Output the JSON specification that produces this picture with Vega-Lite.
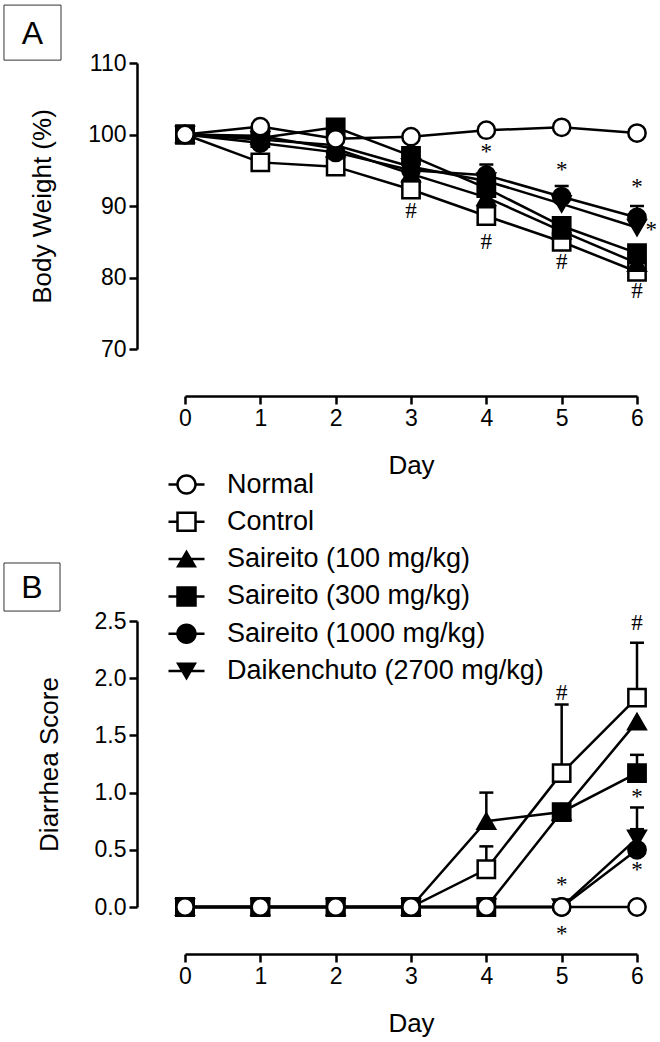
{
  "$schema": "https://vega.github.io/schema/vega-lite/v6.json",
  "width": 523,
  "height": 954,
  "autosize": "none",
  "padding": {"left": 137, "top": 0, "right": 0, "bottom": 88},
  "background": "white",
  "config": {
    "font": "Liberation Sans",
    "view": {"stroke": null},
    "axis": {
      "grid": false,
      "domainColor": "black",
      "domainWidth": 2.5,
      "tickColor": "black",
      "tickWidth": 2.5,
      "tickSize": 8,
      "labelFont": "Liberation Sans",
      "labelFontSize": 23,
      "labelColor": "black",
      "labelPadding": 3,
      "titleFont": "Liberation Sans",
      "titleFontSize": 26,
      "titleFontWeight": "normal",
      "titleColor": "black"
    }
  },
  "datasets": {
    "bw": [
      {"group": "Control", "day": 0, "value": 100},
      {"group": "Control", "day": 1, "value": 96.1},
      {"group": "Control", "day": 2, "value": 95.5},
      {"group": "Control", "day": 3, "value": 92.3},
      {"group": "Control", "day": 4, "value": 88.6},
      {"group": "Control", "day": 5, "value": 85.0},
      {"group": "Control", "day": 6, "value": 80.8},
      {"group": "Saireito (100 mg/kg)", "day": 0, "value": 100},
      {"group": "Saireito (100 mg/kg)", "day": 1, "value": 99.8},
      {"group": "Saireito (100 mg/kg)", "day": 2, "value": 98.0},
      {"group": "Saireito (100 mg/kg)", "day": 3, "value": 94.5},
      {"group": "Saireito (100 mg/kg)", "day": 4, "value": 91.2},
      {"group": "Saireito (100 mg/kg)", "day": 5, "value": 86.5},
      {"group": "Saireito (100 mg/kg)", "day": 6, "value": 82.0},
      {"group": "Daikenchuto (2700 mg/kg)", "day": 0, "value": 100},
      {"group": "Daikenchuto (2700 mg/kg)", "day": 1, "value": 99.3},
      {"group": "Daikenchuto (2700 mg/kg)", "day": 2, "value": 98.5},
      {"group": "Daikenchuto (2700 mg/kg)", "day": 3, "value": 95.5},
      {"group": "Daikenchuto (2700 mg/kg)", "day": 4, "value": 93.5},
      {"group": "Daikenchuto (2700 mg/kg)", "day": 5, "value": 90.3},
      {"group": "Daikenchuto (2700 mg/kg)", "day": 6, "value": 87.0},
      {"group": "Saireito (1000 mg/kg)", "day": 0, "value": 100},
      {"group": "Saireito (1000 mg/kg)", "day": 1, "value": 98.8},
      {"group": "Saireito (1000 mg/kg)", "day": 2, "value": 97.5},
      {"group": "Saireito (1000 mg/kg)", "day": 3, "value": 95.0},
      {"group": "Saireito (1000 mg/kg)", "day": 4, "value": 94.3},
      {"group": "Saireito (1000 mg/kg)", "day": 5, "value": 91.3},
      {"group": "Saireito (1000 mg/kg)", "day": 6, "value": 88.4},
      {"group": "Saireito (300 mg/kg)", "day": 0, "value": 100},
      {"group": "Saireito (300 mg/kg)", "day": 1, "value": 99.5},
      {"group": "Saireito (300 mg/kg)", "day": 2, "value": 101.0},
      {"group": "Saireito (300 mg/kg)", "day": 3, "value": 97.0},
      {"group": "Saireito (300 mg/kg)", "day": 4, "value": 92.5},
      {"group": "Saireito (300 mg/kg)", "day": 5, "value": 87.2},
      {"group": "Saireito (300 mg/kg)", "day": 6, "value": 83.4},
      {"group": "Normal", "day": 0, "value": 100},
      {"group": "Normal", "day": 1, "value": 101.1},
      {"group": "Normal", "day": 2, "value": 99.4},
      {"group": "Normal", "day": 3, "value": 99.7},
      {"group": "Normal", "day": 4, "value": 100.6},
      {"group": "Normal", "day": 5, "value": 101.0},
      {"group": "Normal", "day": 6, "value": 100.2}
    ],
    "bwErr": [
      {"group": "Saireito (1000 mg/kg)", "day": 4, "value": 95.8, "value2": 94.3},
      {"group": "Saireito (1000 mg/kg)", "day": 5, "value": 92.8, "value2": 91.3},
      {"group": "Saireito (1000 mg/kg)", "day": 6, "value": 90.0, "value2": 88.4}
    ],
    "bwSig": [
      {"day": 3, "value": 89.3, "label": "#"},
      {"day": 4, "value": 97.5, "label": "*"},
      {"day": 4, "value": 85.0, "label": "#"},
      {"day": 5, "value": 95.1, "label": "*"},
      {"day": 5, "value": 82.2, "label": "#"},
      {"day": 6, "value": 92.6, "label": "*"},
      {"day": 6.19, "value": 86.7, "label": "*"},
      {"day": 6, "value": 78.1, "label": "#"}
    ],
    "boxA": [{"day": -2.403, "day2": -1.646, "value": 118.1, "value2": 110.4}],
    "textA": [{"day": -2.024, "value": 114.2, "label": "A"}],
    "ds": [
      {"group": "Control", "day": 0, "value": 0},
      {"group": "Control", "day": 1, "value": 0},
      {"group": "Control", "day": 2, "value": 0},
      {"group": "Control", "day": 3, "value": 0},
      {"group": "Control", "day": 4, "value": 0.33},
      {"group": "Control", "day": 5, "value": 1.17},
      {"group": "Control", "day": 6, "value": 1.83},
      {"group": "Saireito (100 mg/kg)", "day": 0, "value": 0},
      {"group": "Saireito (100 mg/kg)", "day": 1, "value": 0},
      {"group": "Saireito (100 mg/kg)", "day": 2, "value": 0},
      {"group": "Saireito (100 mg/kg)", "day": 3, "value": 0},
      {"group": "Saireito (100 mg/kg)", "day": 4, "value": 0.75},
      {"group": "Saireito (100 mg/kg)", "day": 5, "value": 0.83},
      {"group": "Saireito (100 mg/kg)", "day": 6, "value": 1.62},
      {"group": "Daikenchuto (2700 mg/kg)", "day": 0, "value": 0},
      {"group": "Daikenchuto (2700 mg/kg)", "day": 1, "value": 0},
      {"group": "Daikenchuto (2700 mg/kg)", "day": 2, "value": 0},
      {"group": "Daikenchuto (2700 mg/kg)", "day": 3, "value": 0},
      {"group": "Daikenchuto (2700 mg/kg)", "day": 4, "value": 0},
      {"group": "Daikenchuto (2700 mg/kg)", "day": 5, "value": 0},
      {"group": "Daikenchuto (2700 mg/kg)", "day": 6, "value": 0.6},
      {"group": "Saireito (1000 mg/kg)", "day": 0, "value": 0},
      {"group": "Saireito (1000 mg/kg)", "day": 1, "value": 0},
      {"group": "Saireito (1000 mg/kg)", "day": 2, "value": 0},
      {"group": "Saireito (1000 mg/kg)", "day": 3, "value": 0},
      {"group": "Saireito (1000 mg/kg)", "day": 4, "value": 0},
      {"group": "Saireito (1000 mg/kg)", "day": 5, "value": 0},
      {"group": "Saireito (1000 mg/kg)", "day": 6, "value": 0.5},
      {"group": "Saireito (300 mg/kg)", "day": 0, "value": 0},
      {"group": "Saireito (300 mg/kg)", "day": 1, "value": 0},
      {"group": "Saireito (300 mg/kg)", "day": 2, "value": 0},
      {"group": "Saireito (300 mg/kg)", "day": 3, "value": 0},
      {"group": "Saireito (300 mg/kg)", "day": 4, "value": 0},
      {"group": "Saireito (300 mg/kg)", "day": 5, "value": 0.83},
      {"group": "Saireito (300 mg/kg)", "day": 6, "value": 1.17},
      {"group": "Normal", "day": 0, "value": 0},
      {"group": "Normal", "day": 1, "value": 0},
      {"group": "Normal", "day": 2, "value": 0},
      {"group": "Normal", "day": 3, "value": 0},
      {"group": "Normal", "day": 4, "value": 0},
      {"group": "Normal", "day": 5, "value": 0},
      {"group": "Normal", "day": 6, "value": 0}
    ],
    "dsErr": [
      {"group": "Control", "day": 4, "value": 0.53, "value2": 0.33},
      {"group": "Control", "day": 5, "value": 1.77, "value2": 1.17},
      {"group": "Control", "day": 6, "value": 2.31, "value2": 1.83},
      {"group": "Saireito (100 mg/kg)", "day": 4, "value": 1.0, "value2": 0.75},
      {"group": "Saireito (300 mg/kg)", "day": 6, "value": 1.33, "value2": 1.17},
      {"group": "Daikenchuto (2700 mg/kg)", "day": 6, "value": 0.87, "value2": 0.6},
      {"group": "Saireito (1000 mg/kg)", "day": 6, "value": 0.68, "value2": 0.5}
    ],
    "dsSig": [
      {"day": 5, "value": 1.87, "label": "#"},
      {"day": 6, "value": 2.48, "label": "#"},
      {"day": 5, "value": 0.19, "label": "*"},
      {"day": 5, "value": -0.24, "label": "*"},
      {"day": 6, "value": 0.96, "label": "*"},
      {"day": 6, "value": 0.32, "label": "*"}
    ],
    "boxB": [{"day": -2.403, "day2": -1.659, "value": 3.007, "value2": 2.587}],
    "textB": [{"day": -2.031, "value": 2.797, "label": "B"}]
  },
  "layer": [
    {
      "encoding": {
        "x": {"field": "day", "type": "quantitative",
          "scale": {"domain": [0, 6], "range": [48, 500], "nice": false, "zero": false},
          "axis": {"orient": "bottom", "offset": -558, "values": [0, 1, 2, 3, 4, 5, 6], "format": "d", "title": "Day", "labelFlush": false, "titlePadding": 22}},
        "y": {"field": "value", "type": "quantitative",
          "scale": {"domain": [70, 110], "range": [349, 63], "nice": false, "zero": false},
          "axis": {"orient": "left", "values": [70, 80, 90, 100, 110], "title": "Body Weight (%)", "titlePadding": 32}}
      },
      "layer": [
        {"data": {"name": "bw"}, "mark": {"type": "line", "color": "black", "strokeWidth": 2.5},
          "encoding": {"detail": {"field": "group"}}},
        {"data": {"name": "bwErr"}, "mark": {"type": "rule", "color": "black", "strokeWidth": 2.5},
          "encoding": {"y2": {"field": "value2"}}},
        {"data": {"name": "bwErr"}, "mark": {"type": "tick", "orient": "horizontal", "color": "black", "thickness": 2.5, "size": 14, "opacity": 1}},
        {"data": {"name": "bw"}, "mark": {"type": "point", "filled": true, "stroke": "black", "strokeWidth": 2.5, "size": 300, "opacity": 1},
          "encoding": {
            "shape": {"field": "group", "type": "nominal", "legend": null,
              "scale": {"domain": ["Normal", "Control", "Saireito (100 mg/kg)", "Saireito (300 mg/kg)", "Saireito (1000 mg/kg)", "Daikenchuto (2700 mg/kg)"],
                "range": ["circle", "square", "triangle-up", "square", "circle", "triangle-down"]}},
            "fill": {"field": "group", "type": "nominal", "legend": null,
              "scale": {"domain": ["Normal", "Control", "Saireito (100 mg/kg)", "Saireito (300 mg/kg)", "Saireito (1000 mg/kg)", "Daikenchuto (2700 mg/kg)"],
                "range": ["white", "white", "black", "black", "black", "black"]}}
          }},
        {"data": {"name": "bwSig"}, "mark": {"type": "text", "font": "Liberation Serif", "fontSize": 23, "color": "black", "baseline": "middle", "align": "center"},
          "encoding": {"text": {"field": "label"}}},
        {"data": {"name": "boxA"}, "mark": {"type": "rect", "fill": "white", "stroke": "#333", "strokeWidth": 1},
          "encoding": {"x2": {"field": "day2"}, "y2": {"field": "value2"}}},
        {"data": {"name": "textA"}, "mark": {"type": "text", "fontSize": 32, "color": "black", "baseline": "middle", "align": "center", "dy": 1},
          "encoding": {"text": {"field": "label"}}}
      ]
    },
    {
      "encoding": {
        "x": {"field": "day", "type": "quantitative",
          "scale": {"domain": [0, 6], "range": [48, 500], "nice": false, "zero": false},
          "axis": {"orient": "bottom", "offset": 0, "values": [0, 1, 2, 3, 4, 5, 6], "format": "d", "title": "Day", "labelFlush": false, "titlePadding": 22}},
        "y": {"field": "value", "type": "quantitative",
          "scale": {"domain": [0, 2.5], "range": [907, 621], "nice": false, "zero": false},
          "axis": {"orient": "left", "values": [0, 0.5, 1, 1.5, 2, 2.5], "format": ".1f", "title": "Diarrhea Score", "titlePadding": 32}}
      },
      "layer": [
        {"data": {"name": "ds"}, "mark": {"type": "line", "color": "black", "strokeWidth": 2.5},
          "encoding": {"detail": {"field": "group"}}},
        {"data": {"name": "dsErr"}, "mark": {"type": "rule", "color": "black", "strokeWidth": 2.5},
          "encoding": {"y2": {"field": "value2"}}},
        {"data": {"name": "dsErr"}, "mark": {"type": "tick", "orient": "horizontal", "color": "black", "thickness": 2.5, "size": 14, "opacity": 1}},
        {"data": {"name": "ds"}, "mark": {"type": "point", "filled": true, "stroke": "black", "strokeWidth": 2.5, "size": 300, "opacity": 1},
          "encoding": {
            "shape": {"field": "group", "type": "nominal", "legend": null,
              "scale": {"domain": ["Normal", "Control", "Saireito (100 mg/kg)", "Saireito (300 mg/kg)", "Saireito (1000 mg/kg)", "Daikenchuto (2700 mg/kg)"],
                "range": ["circle", "square", "triangle-up", "square", "circle", "triangle-down"]}},
            "fill": {"field": "group", "type": "nominal", "legend": null,
              "scale": {"domain": ["Normal", "Control", "Saireito (100 mg/kg)", "Saireito (300 mg/kg)", "Saireito (1000 mg/kg)", "Daikenchuto (2700 mg/kg)"],
                "range": ["white", "white", "black", "black", "black", "black"]}}
          }},
        {"data": {"name": "dsSig"}, "mark": {"type": "text", "font": "Liberation Serif", "fontSize": 23, "color": "black", "baseline": "middle", "align": "center"},
          "encoding": {"text": {"field": "label"}}},
        {"data": {"name": "boxB"}, "mark": {"type": "rect", "fill": "white", "stroke": "#333", "strokeWidth": 1},
          "encoding": {"x2": {"field": "day2"}, "y2": {"field": "value2"}}},
        {"data": {"name": "textB"}, "mark": {"type": "text", "fontSize": 32, "color": "black", "baseline": "middle", "align": "center", "dy": 1},
          "encoding": {"text": {"field": "label"}}}
      ]
    },
    {
      "data": {"values": []},
      "mark": {"type": "point", "filled": true, "color": "black", "opacity": 1},
      "encoding": {
        "shape": {"field": "group", "type": "nominal",
          "scale": {"domain": ["Normal", "Control", "Saireito (100 mg/kg)", "Saireito (300 mg/kg)", "Saireito (1000 mg/kg)", "Daikenchuto (2700 mg/kg)"],
            "range": [
              "M1.025,0A1.025,1.025,0,1,1,-1.025,0A1.025,1.025,0,1,1,1.025,0ZM0.775,0A0.775,0.775,0,1,0,-0.775,0A0.775,0.775,0,1,0,0.775,0ZM-1.8,-0.125H-1.0V0.125H-1.8ZM1.0,-0.125H1.8V0.125H1.0Z",
              "M-1.025,-1.025H1.025V1.025H-1.025ZM-0.775,-0.775V0.775H0.775V-0.775ZM-1.8,-0.125H-1.0V0.125H-1.8ZM1.0,-0.125H1.8V0.125H1.0Z",
              "M0,-0.95L1.05,0.85H-1.05ZM-1.8,-0.125H1.8V0.125H-1.8Z",
              "M-1.025,-1.025H1.025V1.025H-1.025ZM-1.8,-0.125H1.8V0.125H-1.8Z",
              "M1.025,0A1.025,1.025,0,1,1,-1.025,0A1.025,1.025,0,1,1,1.025,0ZM-1.8,-0.125H1.8V0.125H-1.8Z",
              "M0,0.95L-1.05,-0.85H1.05ZM-1.8,-0.125H1.8V0.125H-1.8Z"
            ]},
          "legend": {"orient": "none", "legendX": 36, "legendY": 471, "title": null, "padding": 0,
            "symbolSize": 400, "symbolStrokeWidth": 0, "symbolFillColor": "black", "symbolOffset": 0,
            "labelFont": "Liberation Sans", "labelFontSize": 27, "labelColor": "black", "labelOffset": 27, "labelLimit": 500, "rowPadding": 9.3}}
      }
    }
  ],
  "resolve": {
    "scale": {"x": "independent", "y": "independent", "shape": "independent", "fill": "independent"},
    "axis": {"x": "independent", "y": "independent"}
  }
}
